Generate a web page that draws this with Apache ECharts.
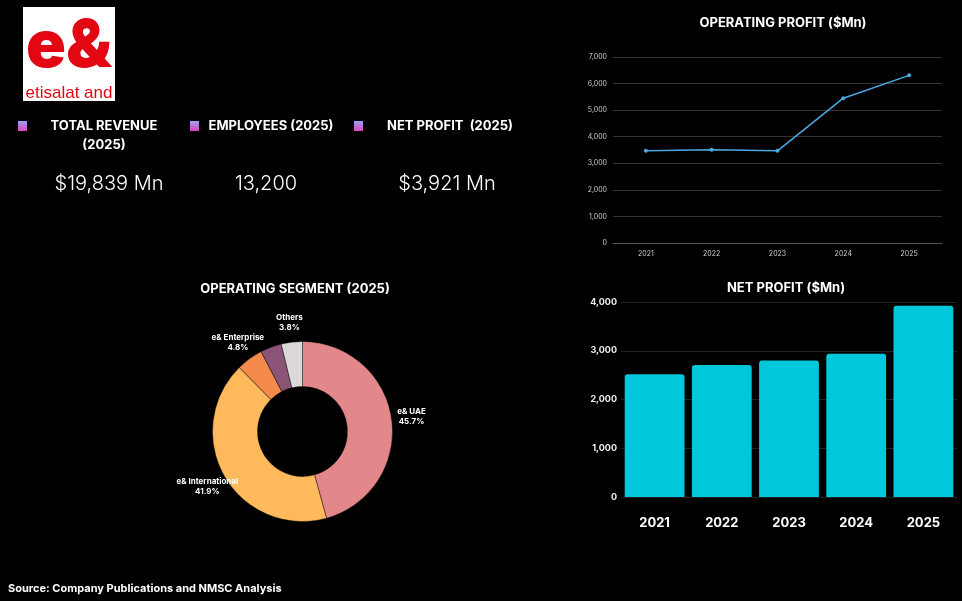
<!DOCTYPE html>
<html>
<head>
<meta charset="utf-8">
<script src="https://cdn.jsdelivr.net/npm/echarts@6/dist/echarts.min.js"></script>
<style>
  html, body { margin: 0; padding: 0; background: #000; }
  #main { width: 962px; height: 601px; }
</style>
</head>
<body>
<div id="main"></div>
<script>
// chart data
var years = ['2021', '2022', '2023', '2024', '2025'];
var op_profit = [3470, 3510, 3470, 5450, 6310];
var net_profit = [2520, 2710, 2800, 2940, 3921];
var seg_names = ['e& UAE', 'e& International', 'e& Enterprise', 'e& life', 'Others'];
var seg_share = [45.7, 41.9, 4.8, 3.8, 3.8];
var seg_hide_label = [false, false, false, true, false];
var kpi_titles = ['TOTAL REVENUE\n(2025)', 'EMPLOYEES (2025)', 'NET PROFIT  (2025)'];
var kpi_values = ['$19,839 Mn', '13,200', '$3,921 Mn'];

var seg_colors = ['#E2878A', '#FDB95B', '#F48A4C', '#8A5576', '#D9D9D9'];
var FONT = 'Inter, "Noto Sans", sans-serif';

var myChart = echarts.init(document.getElementById('main'));

function fmt(v) {
    return echarts.format.addCommas(v);
}

// kpi blocks: icon x, title center x, value center x
var kpi_pos = [
    { icon: 18, tx: 104, vx: 109 },
    { icon: 190, tx: 271, vx: 266 },
    { icon: 354, tx: 450, vx: 447 }
];

var graphics = [
    // logo
    { type: 'rect', shape: { x: 23, y: 7, width: 92, height: 94 }, style: { fill: '#fff' } },
    { type: 'text', x: 69, y: 80, style: { text: 'e&', fill: '#E30613', font: '900 66px ' + FONT, align: 'center', verticalAlign: 'bottom' } },
    { type: 'text', x: 69, y: 93, style: { text: 'etisalat and', fill: '#E30613', font: '17px "Liberation Sans", Arial, sans-serif', align: 'center', verticalAlign: 'middle' } },
    // titles
    { type: 'text', x: 783, y: 23, style: { text: 'OPERATING PROFIT ($Mn)', fill: '#fff', font: 'bold 13px ' + FONT, align: 'center', verticalAlign: 'middle' } },
    { type: 'text', x: 786, y: 288, style: { text: 'NET PROFIT ($Mn)', fill: '#fff', font: 'bold 13px ' + FONT, align: 'center', verticalAlign: 'middle' } },
    { type: 'text', x: 295, y: 289, style: { text: 'OPERATING SEGMENT (2025)', fill: '#fff', font: 'bold 13px ' + FONT, align: 'center', verticalAlign: 'middle' } },
    // source
    { type: 'text', x: 8, y: 589, style: { text: 'Source: Company Publications and NMSC Analysis', fill: '#fff', font: 'bold 11px ' + FONT, align: 'left', verticalAlign: 'middle' } }
];

kpi_titles.forEach(function (t, i) {
    var p = kpi_pos[i];
    graphics.push({
        type: 'rect',
        shape: { x: p.icon, y: 121, width: 9, height: 10 },
        style: {
            fill: new echarts.graphic.LinearGradient(0, 0, 0, 1, [
                { offset: 0, color: '#9AA6F2' },
                { offset: 1, color: '#E23FBE' }
            ])
        }
    });
    graphics.push({
        type: 'text', x: p.tx, y: 117,
        style: { text: t, fill: '#fff', font: 'bold 13px ' + FONT, align: 'center', verticalAlign: 'top', lineHeight: 19 }
    });
    graphics.push({
        type: 'text', x: p.vx, y: 184,
        style: { text: kpi_values[i], fill: '#fff', font: '300 20px ' + FONT, align: 'center', verticalAlign: 'middle' }
    });
});

var pie_data = seg_names.map(function (n, i) {
    return { name: n, value: seg_share[i], itemStyle: { color: seg_colors[i] } };
});
var pie_label_data = seg_names.map(function (n, i) {
    return { name: n, value: seg_share[i], label: { show: !seg_hide_label[i] } };
});

var option = {
    backgroundColor: '#000',
    animation: false,
    textStyle: { fontFamily: FONT },
    graphic: graphics,
    grid: [
        { left: 613, top: 57, width: 329, height: 186 },
        { left: 621, top: 302, width: 336, height: 195 }
    ],
    xAxis: [
        {
            gridIndex: 0, type: 'category', data: years,
            axisLine: { lineStyle: { color: '#555' } },
            axisTick: { show: false },
            axisLabel: { color: '#ccc', fontSize: 7, margin: 7 }
        },
        {
            gridIndex: 1, type: 'category', data: years,
            axisLine: { show: false },
            axisTick: { show: false },
            axisLabel: { color: '#fff', fontSize: 13, fontWeight: 'bold', margin: 20 }
        }
    ],
    yAxis: [
        {
            gridIndex: 0, type: 'value', min: 0, max: 7000, interval: 1000,
            axisLine: { show: false },
            axisTick: { show: false },
            axisLabel: { color: '#ccc', fontSize: 7, margin: 6, formatter: fmt },
            splitLine: { lineStyle: { color: '#333', width: 1 } }
        },
        {
            gridIndex: 1, type: 'value', min: 0, max: 4000, interval: 1000,
            axisLine: { show: false },
            axisTick: { show: false },
            axisLabel: { color: '#eee', fontSize: 9, fontWeight: 'bold', margin: 4, formatter: fmt },
            splitLine: { lineStyle: { color: '#222', width: 1 } }
        }
    ],
    series: [
        {
            type: 'line', xAxisIndex: 0, yAxisIndex: 0, data: op_profit,
            symbol: 'circle', symbolSize: 4,
            lineStyle: { color: '#4DA9E2', width: 1.5 },
            itemStyle: { color: '#4DA9E2' }
        },
        {
            type: 'bar', xAxisIndex: 1, yAxisIndex: 1, data: net_profit,
            barCategoryGap: '11%',
            itemStyle: { color: '#00C8DA', borderRadius: [3, 3, 0, 0] }
        },
        {
            type: 'pie', center: [302.5, 431.5], radius: [45, 90],
            startAngle: 90, clockwise: true,
            label: { show: false }, labelLine: { show: false },
            itemStyle: { borderColor: '#000', borderWidth: 0.4 },
            data: pie_data
        },
        {
            // invisible ring that only carries the outside labels
            type: 'pie', center: [302.5, 431.5], radius: [94, 120],
            startAngle: 90, clockwise: true, silent: true,
            itemStyle: { color: 'rgba(0,0,0,0)' },
            label: {
                show: true, position: 'inside', color: '#fff',
                fontSize: 8, fontWeight: 'bold', lineHeight: 10,
                formatter: '{b}\n{c}%'
            },
            labelLine: { show: false },
            data: pie_label_data
        }
    ]
};

myChart.setOption(option);
</script>
</body>
</html>
